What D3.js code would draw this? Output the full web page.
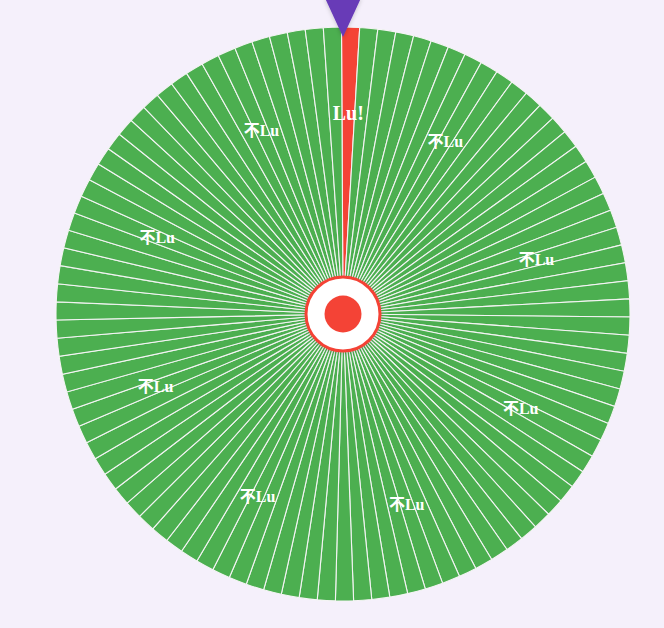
<!DOCTYPE html>
<html>
<head>
<meta charset="utf-8">
<script src="https://cdn.jsdelivr.net/npm/d3@7"></script>
<style>
  html, body { margin: 0; padding: 0; background: #f5f0fb; }
  svg { display: block; }
</style>
</head>
<body>
<svg id="wheel"></svg>
<script>
// prize slots on the wheel, in clockwise order from the pointer
const prizeNames = ["Lu!", "不Lu"];
const prizeCounts = [1, 98];
const prizeColors = ["#f44336", "#4caf50"];
// slots that carry a text label
const labeledSegments = [0, 8, 20, 32, 44, 56, 68, 80, 92];

var svgWidth = 664, svgHeight = 628;
var cx = 343, cy = 314, radius = 287;
var offset = -0.3 * Math.PI / 180;

var segments = [];
prizeNames.forEach(function (name, i) {
  for (var k = 0; k < prizeCounts[i]; k++) {
    segments.push({ name: name, color: prizeColors[i] });
  }
});

var svg = d3.select('#wheel')
  .attr("width", svgWidth)
  .attr("height", svgHeight);

var defs = svg.append("defs");
var shadow = defs.append("filter").attr("id", "shadow")
  .attr("x", "-50%").attr("y", "-50%").attr("width", "200%").attr("height", "200%");
shadow.append("feDropShadow")
  .attr("dx", 0).attr("dy", 1)
  .attr("stdDeviation", 2)
  .attr("flood-color", "#000")
  .attr("flood-opacity", 0.2);

var g = svg.append("g")
  .attr("transform", "translate(" + cx + "," + cy + ")");

var pie = d3.pie()
  .value(function () { return 1; })
  .sort(null)
  .startAngle(offset)
  .endAngle(offset + 2 * Math.PI);

var arc = d3.arc().innerRadius(0).outerRadius(radius);
var labelArc = d3.arc().innerRadius(201).outerRadius(201);

var arcs = pie(segments);

g.selectAll("path.slot")
  .data(arcs)
  .enter().append("path")
  .attr("class", "slot")
  .attr("d", arc)
  .attr("fill", function (d) { return d.data.color; })
  .attr("stroke", "#f4f4f4")
  .attr("stroke-width", 1.1);

g.selectAll("text.label")
  .data(arcs.filter(function (d) { return labeledSegments.indexOf(d.index) >= 0; }))
  .enter().append("text")
  .attr("class", "label")
  .attr("transform", function (d) { return "translate(" + labelArc.centroid(d) + ")"; })
  .attr("text-anchor", "middle")
  .attr("dy", "0.35em")
  .attr("fill", "#fff")
  .attr("font-family", "'Liberation Serif', 'Noto Sans CJK SC', serif")
  .attr("font-weight", "bold")
  .attr("font-size", function (d) { return d.data.name === "Lu!" ? 20 : 16; })
  .text(function (d) { return d.data.name; });

// center hub
g.append("circle")
  .attr("r", 37)
  .attr("fill", "#fff")
  .attr("stroke", "#f44336")
  .attr("stroke-width", 3)
  .attr("filter", "url(#shadow)");

g.append("circle")
  .attr("r", 18.5)
  .attr("fill", "#f44336");

// pointer
svg.append("path")
  .attr("d", "M" + (cx - 18) + ",-2L" + (cx + 18) + ",-2L" + cx + "," + (cy - radius + 10) + "Z")
  .attr("fill", "#673ab7")
  .attr("filter", "url(#shadow)");
</script>
</body>
</html>
